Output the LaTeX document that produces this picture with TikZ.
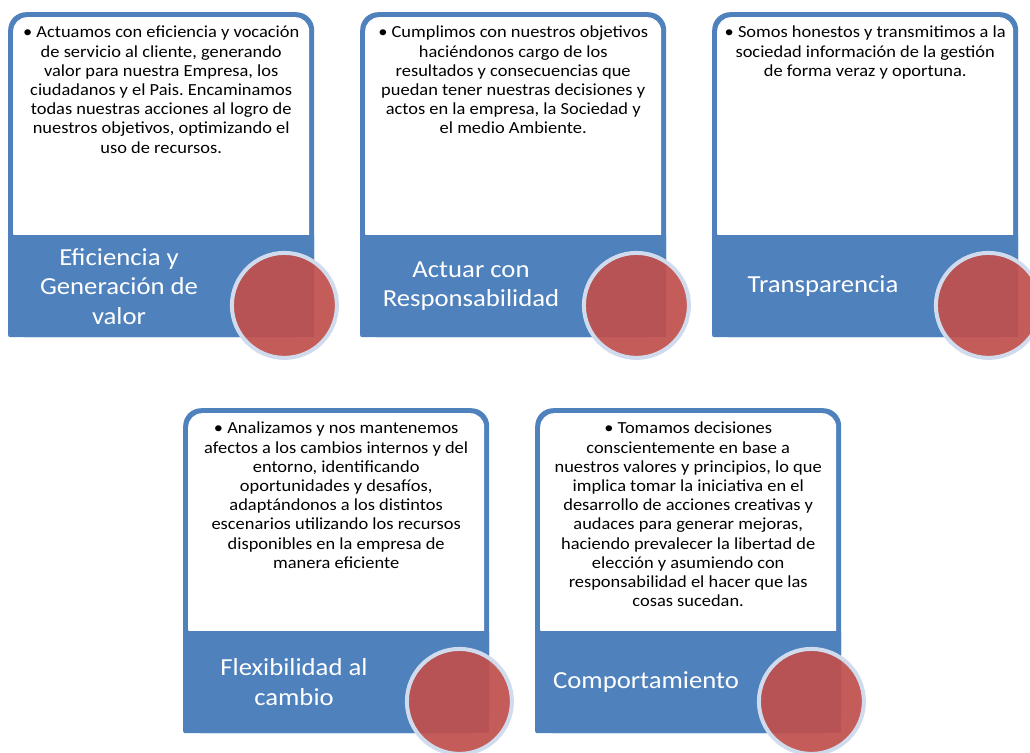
\documentclass[tikz,border=0pt]{standalone}
\usepackage{fontspec}
\setmainfont{Carlito}[FakeStretch=1.09]
\usepackage{tikz}
\usetikzlibrary{positioning}
\frenchspacing
\definecolor{valblue}{RGB}{79, 129, 189}
\definecolor{valred}{RGB}{192, 80, 77}
\definecolor{valring}{RGB}{208, 220, 237}
\tikzset{
  cardframe/.style={fill=valblue, rounded corners=18pt, minimum width=306pt, minimum height=325pt, anchor=north west, inner sep=0pt},
  cardwhite/.style={fill=white, rounded corners=14pt, minimum width=296pt, minimum height=230pt, inner sep=0pt},
  cardband/.style={fill=valblue, rounded corners=2pt, minimum width=306pt, minimum height=102pt, inner sep=0pt},
  cardtext/.style={align=center, inner sep=0pt, font=\fontsize{16.9}{19.2}\selectfont},
  cardtitle/.style={text=white, align=center, inner sep=0pt, font=\fontsize{24.5}{29.5}\selectfont},
  carddisc/.style={circle, fill=valred, fill opacity=0.92, draw=valring, line width=4pt, minimum size=105pt, inner sep=0pt}
}

\begin{document}
\begin{tikzpicture}[x=1pt, y=1pt]
\useasboundingbox[fill=white] (0,0) rectangle (1030,-752);
\foreach \n/\cx/\cy/\body/\head in {
  a/8/-12/{• Actuamos con eficiencia y vocación\\de servicio al cliente, generando\\valor para nuestra Empresa, los\\ciudadanos y el Pais. Encaminamos\\todas nuestras acciones al logro de\\nuestros objetivos, optimizando el\\uso de recursos.}/{Eficiencia y\\Generación de\\valor},
  b/360/-12/{• Cumplimos con nuestros objetivos\\haciéndonos cargo de los\\resultados y consecuencias que\\puedan tener nuestras decisiones y\\actos en la empresa, la Sociedad y\\el medio Ambiente.}/{Actuar con\\Responsabilidad},
  c/712/-12/{• Somos honestos y transmitimos a la\\sociedad información de la gestión\\de forma veraz y oportuna.}/{Transparencia},
  d/183/-408/{• Analizamos y nos mantenemos\\afectos a los cambios internos y del\\entorno, identificando\\oportunidades y desafíos,\\adaptándonos a los distintos\\escenarios utilizando los recursos\\disponibles en la empresa de\\manera eficiente}/{Flexibilidad al\\cambio},
  e/535/-408/{• Tomamos decisiones\\conscientemente en base a\\nuestros valores y principios, lo que\\implica tomar la iniciativa en el\\desarrollo de acciones creativas y\\audaces para generar mejoras,\\haciendo prevalecer la libertad de\\elección y asumiendo con\\responsabilidad el hacer que las\\cosas sucedan.}/{Comportamiento}} {
  \node[cardframe] (card\n) at (\cx, \cy) {};
  \node[cardwhite, below=5pt of card\n.north] (white\n) {};
  \node[cardband, above=0pt of card\n.south] (band\n) {};
  \node[cardtext, below=14pt of card\n.north] (text\n) {\body};
  \node[cardtitle] (title\n) at ([xshift=111pt]band\n.west) {\head};
  \node[carddisc] (disc\n) at ([xshift=-30pt, yshift=32pt]card\n.south east) {};
}
\end{tikzpicture}
\end{document}
